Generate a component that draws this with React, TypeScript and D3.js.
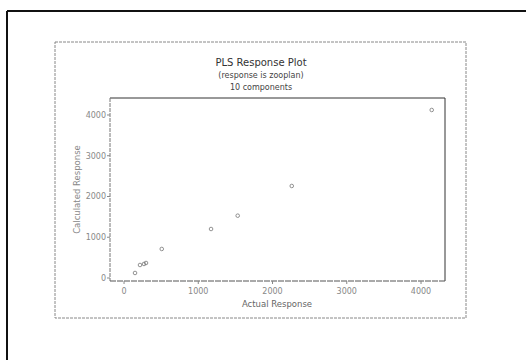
import React from "react";
import * as d3 from "d3";

const actual = [148, 215, 269, 296, 508, 1172, 1531, 2259, 4144];
const calculated = [123, 319, 344, 368, 712, 1202, 1529, 2258, 4123];
const xTicks = [0, 1000, 2000, 3000, 4000];
const yTicks = [0, 1000, 2000, 3000, 4000];
const title = "PLS Response Plot";
const subtitles = ["(response is zooplan)", "10 components"];
const xLabel = "Actual Response";
const yLabel = "Calculated Response";

export default function App() {
  const W = 526, H = 360;
  const left = 110, right = 445, top = 98, bottom = 281;
  const x = d3.scaleLinear().domain([-189, 4323]).range([left, right]);
  const y = d3.scaleLinear().domain([-74, 4417]).range([bottom, top]);
  const font = "DejaVu Sans, Verdana, sans-serif";
  return (
    <svg width={W} height={H} style={{ position: "absolute", left: 0, top: 0, background: "#fff" }}>
      <rect width={W} height={H} fill="#fff" />
      <line x1={7} y1={11} x2={W} y2={11} stroke="#111" strokeWidth={2} />
      <line x1={7} y1={11} x2={7} y2={H} stroke="#111" strokeWidth={2} />
      <rect x={55} y={42} width={411} height={276} fill="none" stroke="#888" strokeWidth={1} strokeDasharray="3,1" />
      <text x={261} y={66} textAnchor="middle" fontFamily={font} fontSize={10} fill="#333">{title}</text>
      {subtitles.map((s, i) => (
        <text key={s} x={261} y={78 + i * 12} textAnchor="middle" fontFamily={font} fontSize={8} fill="#444">{s}</text>
      ))}
      <line x1={left} y1={top} x2={right} y2={top} stroke="#333" />
      <line x1={right} y1={top} x2={right} y2={bottom} stroke="#333" />
      <line x1={left} y1={top} x2={left} y2={bottom} stroke="#777" strokeDasharray="4,1" />
      <line x1={left} y1={bottom} x2={right} y2={bottom} stroke="#555" strokeDasharray="6,1" />
      {xTicks.map((t) => (
        <g key={"x" + t}>
          <line x1={x(t)} x2={x(t)} y1={bottom} y2={bottom + 3} stroke="#888" />
          <text x={x(t)} y={bottom + 13} textAnchor="middle" fontFamily={font} fontSize={8} fill="#888">{t}</text>
        </g>
      ))}
      {yTicks.map((t) => (
        <g key={"y" + t}>
          <line x1={left - 3} x2={left} y1={y(t)} y2={y(t)} stroke="#888" />
          <text x={left - 4} y={y(t) + 3} textAnchor="end" fontFamily={font} fontSize={8} fill="#888">{t}</text>
        </g>
      ))}
      <text x={277} y={307} textAnchor="middle" fontFamily={font} fontSize={8.5} fill="#666">{xLabel}</text>
      <text transform={`translate(80,${(top + bottom) / 2}) rotate(-90)`} textAnchor="middle" fontFamily={font} fontSize={8.5} fill="#888">{yLabel}</text>
      {actual.map((a, i) => (
        <circle key={i} cx={x(a)} cy={y(calculated[i])} r={1.8} fill="none" stroke="#777" strokeWidth={0.8} />
      ))}
    </svg>
  );
}
